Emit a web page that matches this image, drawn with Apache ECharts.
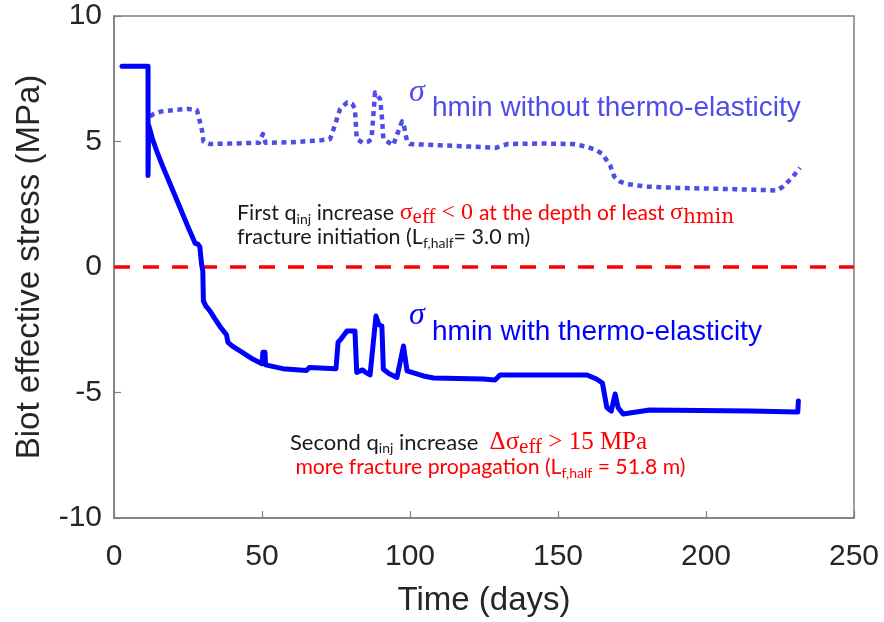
<!DOCTYPE html>
<html>
<head>
<meta charset="utf-8">
<script src="https://cdn.jsdelivr.net/npm/echarts@6/dist/echarts.min.js"></script>
<style>
html,body{margin:0;padding:0;background:#fff;}
#chart{width:884px;height:622px;}
</style>
</head>
<body>
<div id="chart"></div>
<script>
// ---- data ----
const xTicks = [0, 50, 100, 150, 200, 250];
const yTicks = [-10, -5, 0, 5, 10];

// sigma_hmin WITH thermo-elasticity (solid)
const withDays = [2.7, 11.5, 11.5, 11.7, 13, 14.5, 16.5, 19, 22, 25, 27.4, 28.4, 29, 29.6, 30.0, 30.2, 31, 32.4, 34, 36, 38, 38.5, 40, 43.6, 47, 50, 50.3, 51.0, 51.2, 57, 65, 66, 75, 75.5, 75.7, 76.5, 78.7, 81.4, 82, 84, 85, 86.5, 88.5, 89.5, 90.5, 91, 93, 95.6, 97.8, 99, 104.5, 108, 124.7, 128.7, 130.4, 159.8, 163, 165, 166.5, 168, 169.3, 170.3, 172, 181, 215, 231, 231.2];
const withVals = [8.0, 8.0, 3.65, 5.65, 5.1, 4.6, 4.0, 3.3, 2.45, 1.6, 0.95, 0.9, 0.8, 0.1, -0.15, -1.35, -1.55, -1.75, -2.05, -2.4, -2.7, -3.0, -3.15, -3.42, -3.68, -3.85, -3.4, -3.4, -3.9, -4.05, -4.12, -4.0, -4.05, -4.0, -3.0, -2.9, -2.55, -2.55, -4.2, -4.1, -4.2, -4.3, -1.95, -2.3, -2.35, -4.07, -4.25, -4.4, -3.15, -4.14, -4.34, -4.42, -4.46, -4.5, -4.3, -4.3, -4.46, -4.62, -5.6, -5.74, -5.06, -5.6, -5.86, -5.7, -5.74, -5.78, -5.34];

// sigma_hmin WITHOUT thermo-elasticity (dotted)
const withoutDays = [12.2, 13.5, 16, 20, 25, 28, 28.6, 29.2, 29.8, 30.2, 32.4, 40, 49, 50.3, 51.2, 60, 70, 73, 74.5, 76.4, 78.7, 80.5, 81.4, 82, 84, 86, 87, 88.2, 89.9, 90.5, 91, 94.3, 97.3, 98, 99, 100, 110, 120, 129, 133, 145, 155, 159.5, 163, 165, 167.6, 169, 171, 173.6, 180, 191, 210, 224, 226, 229, 231.8];
const withoutVals = [6.0, 6.1, 6.2, 6.25, 6.3, 6.25, 6.0, 5.7, 5.4, 5.0, 4.9, 4.92, 4.95, 5.3, 4.95, 4.97, 5.05, 5.1, 5.6, 6.3, 6.55, 6.5, 6.3, 5.1, 4.95, 5.0, 5.1, 6.95, 6.7, 6.0, 5.1, 4.85, 5.8, 5.6, 5.0, 4.9, 4.85, 4.8, 4.75, 4.9, 4.92, 4.9, 4.8, 4.65, 4.5, 4.05, 3.6, 3.4, 3.3, 3.2, 3.15, 3.1, 3.05, 3.2, 3.55, 3.95];

// zero reference line
const zeroDays = [0, 250];
const zeroVals = [0, 0];

const zip = (a, b) => a.map((v, i) => [v, b[i]]);

const chart = echarts.init(document.getElementById('chart'), null, {renderer: 'canvas'});
const axisGray = '#7f7f7f';
const txt = '#262626';
const blue = '#0000ff';
const lightBlue = '#4d4de8';
const red = '#ff0000';
const blk = '#1a1a1a';
const sans = 'Liberation Sans, Arial, sans-serif';

chart.setOption({
  animation: false,
  backgroundColor: '#ffffff',
  grid: {left: 114, right: 30, top: 16, bottom: 104, show: true, borderColor: axisGray, borderWidth: 1.5, backgroundColor: 'transparent'},
  xAxis: {
    type: 'value', min: xTicks[0], max: xTicks[xTicks.length - 1], interval: 50,
    name: 'Time (days)', nameLocation: 'middle', nameGap: 66,
    nameTextStyle: {fontSize: 33, color: txt, fontFamily: sans},
    axisLine: {show: true, onZero: false, lineStyle: {color: axisGray, width: 1.5}},
    axisTick: {show: true, inside: true, length: 7, lineStyle: {color: axisGray, width: 1.2}},
    splitLine: {show: false},
    axisLabel: {fontSize: 30, color: txt, margin: 24, fontFamily: sans}
  },
  yAxis: {
    type: 'value', min: yTicks[0], max: yTicks[yTicks.length - 1], interval: 5,
    name: 'Biot effective stress (MPa)', nameLocation: 'middle', nameGap: 68,
    nameTextStyle: {fontSize: 33, color: txt, fontFamily: sans},
    axisLine: {show: true, onZero: false, lineStyle: {color: axisGray, width: 1.5}},
    axisTick: {show: true, inside: true, length: 7, lineStyle: {color: axisGray, width: 1.2}},
    splitLine: {show: false},
    axisLabel: {fontSize: 30, color: txt, margin: 12, fontFamily: sans}
  },
  series: [
    {
      type: 'line', data: zip(zeroDays, zeroVals), showSymbol: false, silent: true, z: 2,
      lineStyle: {color: red, width: 3.5, type: [16, 13]}
    },
    {
      type: 'line', data: zip(withoutDays, withoutVals), showSymbol: false, z: 3,
      lineStyle: {color: lightBlue, width: 4.5, type: [5, 4.5], cap: 'butt', join: 'round'}
    },
    {
      type: 'line', data: zip(withDays, withVals), showSymbol: false, z: 4,
      lineStyle: {color: blue, width: 5, cap: 'round', join: 'round'}
    }
  ],
  graphic: [
    {type: 'text', x: 409, y: 93, z: 10, style: {text: 'σ', font: 'italic 32px "Liberation Serif"', fill: lightBlue, verticalAlign: 'middle', align: 'left'}},
    {type: 'text', x: 432, y: 108, z: 10, style: {text: 'hmin without thermo-elasticity', font: '28px "Liberation Sans"', fill: lightBlue, verticalAlign: 'middle', align: 'left'}},
    {type: 'text', x: 409, y: 316, z: 10, style: {text: 'σ', font: 'italic 32px "Liberation Serif"', fill: blue, verticalAlign: 'middle', align: 'left'}},
    {type: 'text', x: 432, y: 332, z: 10, style: {text: 'hmin with thermo-elasticity', font: '28px "Liberation Sans"', fill: blue, verticalAlign: 'middle', align: 'left'}},
    {
      type: 'text', x: 237, y: 201, z: 10,
      style: {
        text: '{b|First q}{bs|inj}{b| increase }{rm|σ}{rms|eff}{rm| < 0 }{r|at the depth of least }{rm|σ}{rms2|hmin}\n{b|fracture initiation (L}{bs|f,half}{b|= 3.0 m)}',
        verticalAlign: 'top', align: 'left',
        rich: {
          b: {font: '21.5px Lato', fill: blk, lineHeight: 24},
          bs: {font: '14px Lato', fill: blk, lineHeight: 14, padding: [12, 0, 0, 0]},
          r: {font: '21px Lato', fill: red, lineHeight: 24},
          rm: {font: '24px "Liberation Serif"', fill: red, lineHeight: 24},
          rms: {font: '21px "Liberation Serif"', fill: red, lineHeight: 14, padding: [9, 0, 0, 0]},
          rms2: {font: '20px "DejaVu Serif"', fill: red, lineHeight: 14, padding: [9, 0, 0, 0]}
        }
      }
    },
    {
      type: 'text', x: 290, y: 430, z: 10,
      style: {
        text: '{b|Second q}{bs|inj}{b| increase  }{rm|Δσ}{rms|eff}{rm| > 15 MPa}\n{r| more fracture propagation (L}{rs|f,half}{r| = 51.8 m)}',
        verticalAlign: 'top', align: 'left',
        rich: {
          b: {font: '22px Lato', fill: blk, lineHeight: 25},
          bs: {font: '14px Lato', fill: blk, lineHeight: 14, padding: [12, 0, 0, 0]},
          r: {font: '21.2px Lato', fill: red, lineHeight: 25},
          rs: {font: '14px Lato', fill: red, lineHeight: 14, padding: [12, 0, 0, 0]},
          rm: {font: '25px "Liberation Serif"', fill: red, lineHeight: 25},
          rms: {font: '21px "Liberation Serif"', fill: red, lineHeight: 14, padding: [9, 0, 0, 0]}
        }
      }
    }
  ]
});
</script>
</body>
</html>
